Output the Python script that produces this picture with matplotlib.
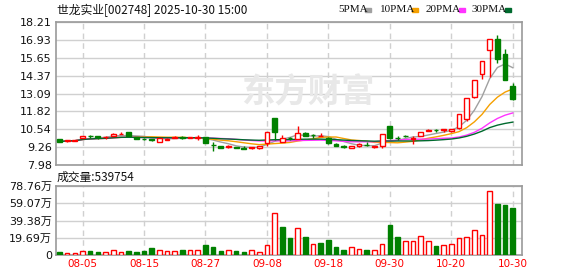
import numpy as np
import pandas as pd
import matplotlib
matplotlib.use('Agg')
import matplotlib.pyplot as plt

# trading days shown (Oct 1-8 is the national holiday)
dates = pd.bdate_range('2025-07-31', '2025-10-30')
dates = dates[(dates < '2025-10-01') | (dates > '2025-10-08')]
labels = dates.strftime('%m-%d')

opens = [9.84, 9.68, 9.72, 9.89, 10.04, 10.04, 9.96, 10.08, 10.18, 10.31,
         9.97, 9.85, 9.82, 9.66, 9.78, 9.90, 9.95, 9.94, 9.90, 9.97,
         9.44, 9.35, 9.24, 9.28, 9.20, 9.20, 9.23, 9.54, 11.32, 9.62,
         9.90, 9.85, 10.25, 10.13, 10.05, 9.92, 9.50, 9.35, 9.22, 9.35,
         9.44, 9.24, 9.33, 10.76, 9.93, 10.05, 9.82, 10.06, 10.40, 10.47,
         10.48, 10.38, 10.62, 11.25, 12.85, 14.49, 16.23, 17.00, 15.95, 13.63]
closes = [9.65, 9.76, 9.74, 10.06, 10.02, 10.00, 9.98, 10.22, 10.20, 10.03,
          9.87, 9.83, 9.80, 9.89, 9.87, 9.97, 9.93, 9.96, 9.97, 9.54,
          9.41, 9.23, 9.35, 9.22, 9.12, 9.24, 9.33, 10.32, 10.36, 9.89,
          9.88, 10.25, 10.08, 10.10, 10.07, 9.55, 9.33, 9.24, 9.33, 9.50,
          9.42, 9.32, 10.18, 9.91, 9.91, 10.03, 9.90, 10.34, 10.45, 10.45,
          10.52, 10.54, 11.60, 12.78, 14.05, 15.41, 16.96, 15.57, 14.08, 12.68]
highs = [9.86, 9.78, 9.78, 10.08, 10.12, 10.05, 10.05, 10.28, 10.32, 10.31,
         9.98, 9.94, 9.84, 9.90, 9.89, 10.02, 10.06, 10.00, 10.10, 10.00,
         9.64, 9.36, 9.41, 9.30, 9.36, 9.30, 9.34, 10.33, 11.33, 10.15,
         9.96, 10.74, 10.34, 10.22, 10.25, 9.95, 9.52, 9.41, 9.36, 9.52,
         9.60, 9.34, 10.20, 10.78, 10.03, 10.15, 10.08, 10.36, 10.57, 10.59,
         10.59, 10.58, 11.62, 12.80, 14.07, 15.43, 16.97, 17.30, 16.30, 13.85]
lows = [9.60, 9.66, 9.70, 9.88, 9.92, 9.86, 9.82, 10.05, 10.17, 10.02,
        9.86, 9.77, 9.72, 9.60, 9.77, 9.89, 9.82, 9.92, 9.80, 9.52,
        8.96, 9.22, 9.22, 9.19, 9.10, 9.11, 9.14, 9.33, 9.78, 9.60,
        9.80, 9.83, 10.07, 9.94, 10.04, 9.48, 9.32, 9.17, 9.18, 9.30,
        9.35, 9.22, 9.20, 9.84, 9.80, 9.95, 9.49, 10.04, 10.40, 10.33,
        10.36, 10.36, 10.58, 11.14, 12.78, 14.12, 14.26, 15.30, 14.05, 12.66]
# volume in 万 shares
volumes = [3.0, 2.7, 2.7, 4.2, 4.2, 3.4, 3.0, 5.3, 3.0, 4.6,
           3.4, 4.6, 8.0, 5.3, 4.2, 4.2, 5.7, 5.3, 5.3, 11.4,
           9.1, 4.6, 5.3, 4.6, 3.4, 5.3, 3.0, 11.0, 47.6, 32.0,
           19.4, 30.4, 20.5, 12.2, 13.7, 17.1, 9.1, 5.7, 8.8, 6.5,
           5.7, 5.3, 12.2, 34.2, 20.5, 15.6, 15.6, 21.3, 15.6, 10.3,
           11.0, 12.2, 19.0, 20.2, 28.2, 22.5, 73.1, 58.2, 57.1, 53.9754]
# 1 = red (up) volume bar, 0 = green
vol_up = [0, 1, 1, 1, 0, 0, 1, 1, 1, 0,
          0, 0, 0, 1, 1, 1, 0, 1, 1, 0,
          0, 0, 1, 0, 0, 1, 1, 1, 1, 0,
          0, 1, 0, 1, 0, 0, 0, 0, 1, 1,
          0, 1, 1, 0, 0, 1, 1, 1, 1, 0,
          1, 1, 1, 1, 1, 1, 1, 0, 0, 0]

price_ticks = [7.98, 9.26, 10.54, 11.82, 13.09, 14.37, 15.65, 16.93, 18.21]
vol_ticks = [0, 19.69, 39.38, 59.07, 78.76]
date_ticks = ['08-05', '08-15', '08-27', '09-08', '09-18', '09-30', '10-20', '10-30']
ma_periods = [5, 10, 20, 30]
ma_colors = ['#a0a0a0', '#f5a000', '#ff33ff', '#006a2e']

RED = '#ff0000'
GREEN = '#008000'
GRID = '#d0d0d0'
SPINE = '#9a9a9a'
CJK = ['Noto Sans CJK SC', 'DejaVu Sans']
NUM = ['DejaVu Sans', 'Noto Sans CJK SC']

o = np.array(opens); c = np.array(closes)
h = np.array(highs); l = np.array(lows)
x = np.arange(len(dates))
tick_pos = [list(labels).index(t) for t in date_ticks]

fig = plt.figure(figsize=(5.78, 2.76), dpi=100)
ax = fig.add_axes([56/578, 1-165/276, 466/578, 143/276])
axv = fig.add_axes([56/578, 1-255/276, 466/578, 69/276])

# moving averages
close_s = pd.Series(c)
for n, col in zip(ma_periods, ma_colors):
    ax.plot(x, close_s.rolling(n, min_periods=1).mean(), color=col, lw=1, zorder=2)

# candles
up = c >= o
ax.vlines(x[up], l[up], h[up], color=RED, lw=1, zorder=3)
ax.vlines(x[~up], l[~up], h[~up], color=GREEN, lw=1, zorder=3)
body_lo = np.minimum(o, c)
body_h = np.maximum(np.abs(c - o), 0.01)
ax.bar(x[up], body_h[up], bottom=body_lo[up], width=0.62, facecolor='white',
       edgecolor=RED, lw=1, zorder=4)
ax.bar(x[~up], body_h[~up], bottom=body_lo[~up], width=0.62, facecolor=GREEN,
       edgecolor=GREEN, lw=1, zorder=4)

# volume bars
vu = np.array(vol_up) == 1
v = np.array(volumes)
axv.bar(x[vu], v[vu], width=0.6, facecolor='white', edgecolor=RED, lw=1, zorder=3)
axv.bar(x[~vu], v[~vu], width=0.6, facecolor=GREEN, edgecolor=GREEN, lw=1, zorder=3)

for a in (ax, axv):
    a.set_xlim(-0.45, 60.2)
    a.set_xticks(tick_pos)
    a.grid(axis='x', color=GRID, ls=(0, (4, 3)), lw=1)
    a.grid(axis='y', color=GRID, ls='-', lw=1)
    a.set_axisbelow(True)
    a.tick_params(length=0, pad=3)
    for s in a.spines.values():
        s.set_color(SPINE)
        s.set_linewidth(1.2)

ax.set_ylim(price_ticks[0], price_ticks[-1])
ax.set_yticks(price_ticks)
ax.set_yticklabels(['%.2f' % t for t in price_ticks], fontsize=8, color='#111111')
ax.set_xticklabels([])

axv.set_ylim(0, vol_ticks[-1])
axv.set_yticks(vol_ticks)
axv.set_yticklabels(['0'] + ['%.2f万' % t for t in vol_ticks[1:]], fontsize=8,
                    family=NUM, color='#111111')
axv.set_xticklabels(date_ticks, fontsize=7.5, color=RED)

# texts
fig.text(57/578, 1-10/276, '世龙实业[002748] 2025-10-30 15:00', family=CJK,
         fontsize=8.5, va='center', ha='left', color='#111111')
fig.text(57/578, 1-177/276, '成交量:539754', family=CJK, fontsize=8.5,
         va='center', ha='left', color='#111111')

# legend: text left edge and colour chip left edge, in pixels
leg_text_x = [338, 380, 426, 472]
leg_chip_x = [365, 412, 459, 505]
for n, col, tx, cx in zip(ma_periods, ma_colors, leg_text_x, leg_chip_x):
    fig.text(tx/578, 1-10/276, '%dPMA' % n, family='Liberation Serif',
             fontsize=8, va='center', ha='left', color='#111111')
    fig.patches.append(plt.Rectangle((cx/578, 1-11.5/276), 6/578, 4/276,
                                     transform=fig.transFigure, color=col))

# watermark
fig.text(308/578, 1-93/276, '东方财富', family=CJK, fontsize=24, fontweight='bold',
         fontstyle='italic', color='#e8e8e8', ha='center', va='center', zorder=0)

fig.savefig('out.png', dpi=100)
